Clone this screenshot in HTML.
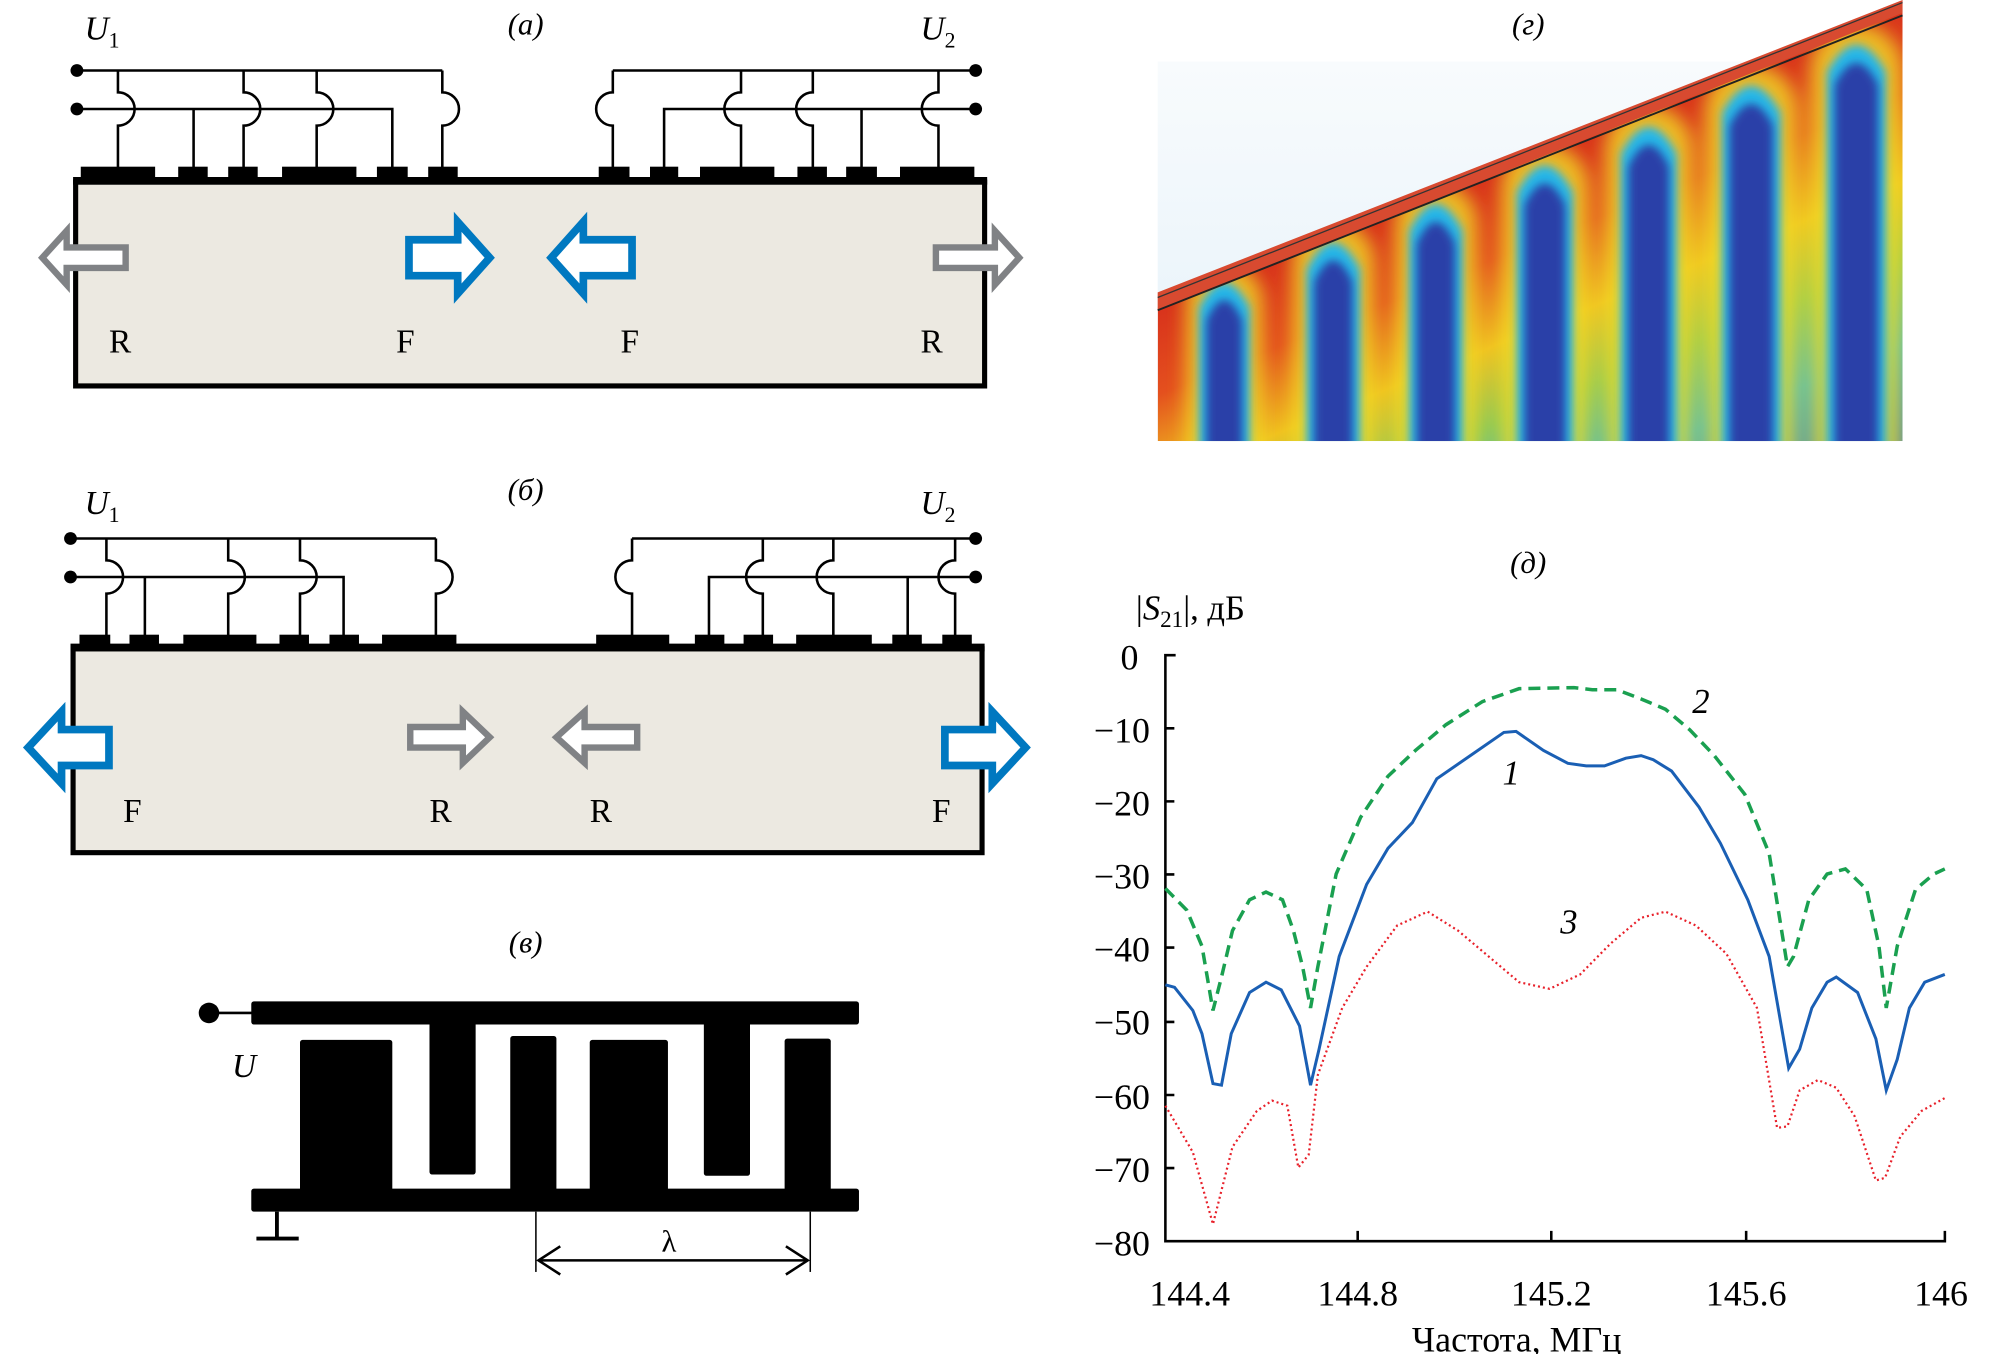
<!DOCTYPE html>
<html><head><meta charset="utf-8"><style>
html,body{margin:0;padding:0;background:#fff;}
svg{display:block;}
text{font-family:"Liberation Serif",serif;}
</style></head><body>
<svg width="2000" height="1354" viewBox="0 0 1560 1056" preserveAspectRatio="none" xmlns="http://www.w3.org/2000/svg">
<defs>
<linearGradient id="base" gradientUnits="userSpaceOnUse" x1="1190" y1="124" x2="1321" y2="449">
<stop offset="0" stop-color="#d8321c"/><stop offset="0.18" stop-color="#e4501e"/><stop offset="0.36" stop-color="#f0c020"/><stop offset="0.52" stop-color="#8cc858"/><stop offset="0.7" stop-color="#30b4d0"/><stop offset="1" stop-color="#2a58b8"/>
</linearGradient>
<linearGradient id="sky" x1="0" y1="0" x2="0" y2="1"><stop offset="0" stop-color="#f8fbfd"/><stop offset="1" stop-color="#e4f1f9"/></linearGradient>
<clipPath id="hm"><polygon points="903,240 1484,5 1484,344 903,344"/></clipPath>
<filter id="bl" x="-50%" y="-20%" width="200%" height="140%"><feGaussianBlur stdDeviation="7"/></filter>
<filter id="bl2" x="-50%" y="-20%" width="200%" height="140%"><feGaussianBlur stdDeviation="3.5"/></filter>
</defs>

<!-- Panel a -->
<text x="410" y="27" font-size="24" font-style="italic" text-anchor="middle">(а)</text>
<text x="66" y="31" font-size="26" font-style="italic">U<tspan font-size="17" font-style="normal" dy="6">1</tspan></text>
<text x="718" y="31" font-size="26" font-style="italic">U<tspan font-size="17" font-style="normal" dy="6">2</tspan></text>
<rect x="59" y="142" width="709" height="159" fill="#ece9e1" stroke="#000" stroke-width="4"/>
<line x1="57" y1="141" x2="770" y2="141" stroke="#000" stroke-width="6"/>
<g fill="#000">
<rect x="63" y="130" width="58" height="12"/><rect x="139" y="130" width="23" height="12"/><rect x="178" y="130" width="23" height="12"/><rect x="220" y="130" width="58" height="12"/><rect x="294" y="130" width="24" height="12"/><rect x="334" y="130" width="23" height="12"/>
<rect x="467" y="130" width="24" height="12"/><rect x="507" y="130" width="22" height="12"/><rect x="546" y="130" width="58" height="12"/><rect x="622" y="130" width="23" height="12"/><rect x="660" y="130" width="24" height="12"/><rect x="702" y="130" width="58" height="12"/>
<circle cx="60" cy="55" r="5"/><circle cx="60" cy="85" r="5"/><circle cx="761" cy="55" r="5"/><circle cx="761" cy="85" r="5"/>
</g>
<g fill="none" stroke="#000" stroke-width="2">
<path d="M60 55H345M60 85H306V131M151 85V131"/>
<path d="M92 55V72A13 13 0 0 1 92 98V131M190 55V72A13 13 0 0 1 190 98V131M247 55V72A13 13 0 0 1 247 98V131M345 55V72A13 13 0 0 1 345 98V131"/>
<path d="M761 55H478M761 85H518V131M672 85V131"/>
<path d="M478 55V72A13 13 0 0 0 478 98V131M578 55V72A13 13 0 0 0 578 98V131M634 55V72A13 13 0 0 0 634 98V131M732 55V72A13 13 0 0 0 732 98V131"/>
</g>
<g stroke-width="5" fill="#fff" stroke-linejoin="miter">
<path d="M98 193H52V180L33 201L52 222V209H98Z" stroke="#808285"/>
<path d="M730 193H776V180L795 201L776 222V209H730Z" stroke="#808285"/>
<path d="M319 187H357V173L382 201L357 229V215H319Z" stroke="#0078c0" stroke-width="6"/>
<path d="M493 187H455V173L430 201L455 229V215H493Z" stroke="#0078c0" stroke-width="6"/>
</g>
<g font-size="26"><text x="85" y="275">R</text><text x="309" y="275">F</text><text x="484" y="275">F</text><text x="718" y="275">R</text></g>

<!-- Panel b -->
<text x="410" y="390" font-size="24" font-style="italic" text-anchor="middle">(б)</text>
<text x="66" y="401" font-size="26" font-style="italic">U<tspan font-size="17" font-style="normal" dy="6">1</tspan></text>
<text x="718" y="401" font-size="26" font-style="italic">U<tspan font-size="17" font-style="normal" dy="6">2</tspan></text>
<rect x="57" y="506" width="709" height="159" fill="#ece9e1" stroke="#000" stroke-width="4"/>
<line x1="55" y1="505" x2="768" y2="505" stroke="#000" stroke-width="6"/>
<g fill="#000">
<rect x="62" y="495" width="24" height="12"/><rect x="101" y="495" width="23" height="12"/><rect x="143" y="495" width="57" height="12"/><rect x="218" y="495" width="23" height="12"/><rect x="257" y="495" width="23" height="12"/><rect x="298" y="495" width="58" height="12"/>
<rect x="465" y="495" width="57" height="12"/><rect x="542" y="495" width="23" height="12"/><rect x="580" y="495" width="23" height="12"/><rect x="621" y="495" width="59" height="12"/><rect x="696" y="495" width="23" height="12"/><rect x="735" y="495" width="23" height="12"/>
<circle cx="55" cy="420" r="5"/><circle cx="55" cy="450" r="5"/><circle cx="761" cy="420" r="5"/><circle cx="761" cy="450" r="5"/>
</g>
<g fill="none" stroke="#000" stroke-width="2">
<path d="M55 420H340M55 450H268V496M113 450V496"/>
<path d="M83 420V437A13 13 0 0 1 83 463V496M178 420V437A13 13 0 0 1 178 463V496M234 420V437A13 13 0 0 1 234 463V496M340 420V437A13 13 0 0 1 340 463V496"/>
<path d="M761 420H493M761 450H553V496M708 450V496"/>
<path d="M493 420V437A13 13 0 0 0 493 463V496M595 420V437A13 13 0 0 0 595 463V496M650 420V437A13 13 0 0 0 650 463V496M745 420V437A13 13 0 0 0 745 463V496"/>
</g>
<g stroke-width="5" fill="#fff">
<path d="M320 567H361V555L382 575L361 595V583H320Z" stroke="#808285"/>
<path d="M497 567H456V555L434 575L456 595V583H497Z" stroke="#808285"/>
<path d="M85 569H48V555L22 583L48 611V597H85Z" stroke="#0078c0" stroke-width="6"/>
<path d="M737 569H774V555L800 583L774 611V597H737Z" stroke="#0078c0" stroke-width="6"/>
</g>
<g font-size="26"><text x="96" y="641">F</text><text x="335" y="641">R</text><text x="460" y="641">R</text><text x="727" y="641">F</text></g>

<!-- Panel v -->
<text x="410" y="743" font-size="24" font-style="italic" text-anchor="middle">(в)</text>
<g fill="#000">
<circle cx="163" cy="790" r="8"/>
<rect x="196" y="781" width="474" height="18" rx="2"/>
<rect x="196" y="927" width="474" height="18" rx="2"/>
<rect x="234" y="811" width="72" height="120" rx="2"/>
<rect x="398" y="808" width="36" height="122" rx="2"/>
<rect x="460" y="811" width="61" height="120" rx="2"/>
<rect x="612" y="810" width="36" height="121" rx="2"/>
<rect x="335" y="795" width="36" height="121" rx="2"/>
<rect x="549" y="795" width="36" height="122" rx="2"/>
</g>
<g stroke="#000" fill="none">
<line x1="163" y1="790" x2="198" y2="790" stroke-width="2"/>
<line x1="216" y1="945" x2="216" y2="966" stroke-width="3"/>
<line x1="200" y1="966" x2="233" y2="966" stroke-width="3"/>
<line x1="418" y1="945" x2="418" y2="992" stroke-width="1.2"/>
<line x1="632" y1="945" x2="632" y2="992" stroke-width="1.2"/>
<line x1="420" y1="983" x2="630" y2="983" stroke-width="2"/>
<path d="M437 972L420 983L437 994M613 972L630 983L613 994" stroke-width="2"/>
</g>
<text x="181" y="840" font-size="26" font-style="italic">U</text>
<text x="516" y="976" font-size="24">λ</text>

<!-- Panel g -->
<text x="1192" y="27" font-size="24" font-style="italic" text-anchor="middle">(г)</text>
<rect x="903" y="48" width="581" height="296" fill="url(#sky)"/>
<g clip-path="url(#hm)">
<rect x="903" y="0" width="581" height="344" fill="url(#base)"/>
<g filter="url(#bl)" fill="#f0dc28" opacity="0.8">
<rect x="925" y="205" width="60" height="180" rx="30"/>
<rect x="1008" y="172" width="64" height="220" rx="32"/>
<rect x="1088" y="142" width="64" height="250" rx="32"/>
<rect x="1171" y="112" width="68" height="280" rx="34"/>
<rect x="1252" y="82" width="68" height="310" rx="34"/>
<rect x="1330" y="50" width="72" height="340" rx="36"/>
<rect x="1412" y="18" width="72" height="370" rx="36"/>
</g>
<g filter="url(#bl2)" fill="#28b8e8">
<path d="M935 385V240Q955 200 975 240V385Z"/>
<path d="M1019 392V210Q1040 168 1061 210V392Z"/>
<path d="M1099 392V180Q1120 138 1141 180V392Z"/>
<path d="M1183 392V150Q1205 108 1227 150V392Z"/>
<path d="M1264 392V120Q1286 78 1308 120V392Z"/>
<path d="M1343 392V88Q1366 46 1389 88V392Z"/>
<path d="M1425 392V56Q1448 14 1471 56V392Z"/>
</g>
<g filter="url(#bl2)" fill="#2a3fa8">
<path d="M941 386V250Q955 218 969 250V386Z"/>
<path d="M1025 393V220Q1040 186 1055 220V393Z"/>
<path d="M1105 393V190Q1120 156 1135 190V393Z"/>
<path d="M1189 393V160Q1205 126 1221 160V393Z"/>
<path d="M1270 393V130Q1286 96 1302 130V393Z"/>
<path d="M1349 393V98Q1366 64 1383 98V393Z"/>
<path d="M1431 393V66Q1448 32 1465 66V393Z"/>
</g>
</g>
<polygon points="903,228 1484,0 1484,10 903,242" fill="#d84a30"/>
<line x1="903" y1="242" x2="1484" y2="12" stroke="#222" stroke-width="1.5"/>
<line x1="903" y1="232" x2="1484" y2="2" stroke="#333" stroke-width="1"/>

<!-- Panel d -->
<text x="1192" y="447" font-size="24" font-style="italic" text-anchor="middle">(д)</text>
<text x="886" y="483" font-size="27">|<tspan font-style="italic">S</tspan><tspan font-size="18" dy="6">21</tspan><tspan dy="-6">|, дБ</tspan></text>
<g stroke="#000" stroke-width="2" fill="none">
<path d="M917 511H909V968H1517V960"/>
<path d="M1059 968V960M1210 968V960M1362 968V960"/>
<path d="M909 568H916M909 625H916M909 682H916M909 739H916M909 797H916M909 854H916M909 911H916"/>
</g>
<g font-size="28" text-anchor="end">
<text x="888" y="522">0</text><text x="897" y="579">−10</text><text x="897" y="636">−20</text><text x="897" y="693">−30</text><text x="897" y="750">−40</text><text x="897" y="807">−50</text><text x="897" y="865">−60</text><text x="897" y="922">−70</text><text x="897" y="979">−80</text>
</g>
<g font-size="28" text-anchor="middle">
<text x="928" y="1018">144.4</text><text x="1059" y="1018">144.8</text><text x="1210" y="1018">145.2</text><text x="1362" y="1018">145.6</text><text x="1514" y="1018">146</text>
<text x="1183" y="1054">Частота, МГц</text>
</g>
<g font-size="27" font-style="italic"><text x="1320" y="556">2</text><text x="1172" y="612">1</text><text x="1217" y="728">3</text></g>
<g transform="translate(909,511) scale(0.4757,0.4016) translate(-180,-195)" fill="none">
<polyline vector-effect="non-scaling-stroke" stroke="#1a5fb4" stroke-width="3" points="180,835 195,840 225,885 240,930 258,1027 272,1030 288,930 318,850 345,830 370,845 400,915 418,1030 432,960 465,780 510,640 545,570 585,520 625,435 680,390 735,345 755,343 800,380 840,405 870,410 900,410 935,395 960,390 980,398 1010,420 1055,490 1090,560 1135,670 1170,780 1202,997 1220,960 1240,880 1265,830 1280,820 1315,850 1345,940 1362,1040 1380,980 1400,880 1425,830 1458,815"/>
<polyline vector-effect="non-scaling-stroke" stroke="#1aa050" stroke-width="3.5" stroke-dasharray="12,7" points="180,648 215,690 240,760 258,885 272,820 290,730 318,670 345,655 372,670 390,730 405,800 418,880 430,800 460,620 500,510 545,430 590,380 640,330 700,285 760,260 850,258 880,262 920,262 960,280 1000,300 1040,340 1080,390 1130,465 1170,580 1200,800 1210,780 1235,670 1265,620 1295,610 1330,650 1350,760 1362,880 1380,760 1410,650 1440,620 1458,610"/>
<polyline vector-effect="non-scaling-stroke" stroke="#e8202a" stroke-width="2.2" stroke-dasharray="2,3" points="180,1070 225,1160 258,1300 290,1150 330,1080 355,1060 380,1070 398,1190 415,1165 430,1010 470,880 510,800 560,720 610,693 660,730 710,780 760,830 810,843 860,815 910,755 960,705 1000,693 1050,720 1100,775 1150,880 1183,1113 1200,1110 1220,1040 1250,1020 1280,1035 1310,1090 1345,1215 1360,1210 1385,1130 1420,1080 1458,1055"/>
</g>
</svg>
</body></html>
